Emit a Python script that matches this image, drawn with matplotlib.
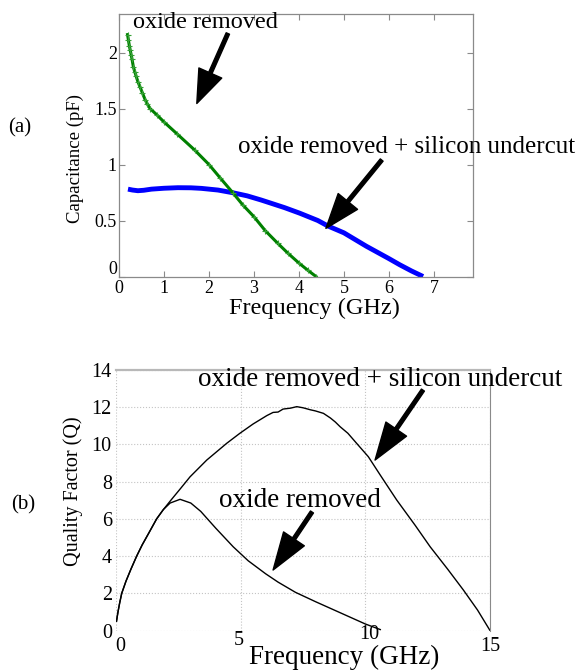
import matplotlib
matplotlib.use("Agg")
import matplotlib.pyplot as plt
from matplotlib.transforms import ScaledTranslation

plt.rcParams['font.family'] = ['Liberation Serif', 'DejaVu Serif']

# ---- (a) Capacitance vs frequency ----
freq_ox = [0.19, 0.21, 0.23, 0.25, 0.27, 0.29, 0.32, 0.35, 0.38, 0.42, 0.47, 0.52,
           0.58, 0.63, 0.69, 0.85, 1.0, 1.3, 1.68, 2.0, 2.25, 2.53, 2.75, 3.0,
           3.25, 3.53, 3.75, 4.0, 4.2, 4.38]
cap_ox = [2.16, 2.11, 2.06, 2.02, 1.98, 1.94, 1.87, 1.83, 1.79, 1.74, 1.69, 1.64,
          1.58, 1.54, 1.50, 1.44, 1.38, 1.27, 1.13, 1.00, 0.88, 0.748, 0.64, 0.534,
          0.41, 0.296, 0.21, 0.12, 0.055, 0.0]

freq_uc = [0.2, 0.3, 0.42, 0.55, 0.72, 1.0, 1.31, 1.6, 1.83, 2.2, 2.53, 2.85,
           3.16, 3.68, 4.02, 4.42, 4.65, 5.0, 5.5, 6.0, 6.24, 6.5, 6.76]
cap_uc = [0.78, 0.772, 0.766, 0.77, 0.78, 0.788, 0.793, 0.792, 0.787, 0.772, 0.748,
          0.72, 0.683, 0.615, 0.565, 0.50, 0.45, 0.39, 0.27, 0.16, 0.105, 0.05, 0.0]

xticks_a = [0, 1, 2, 3, 4, 5, 6, 7]
yticks_a = [0, 0.5, 1, 1.5, 2]
yticklabels_a = ['0', '0.5', '1', '1.5', '2']

# ---- (b) Quality factor vs frequency ----
freq_q_uc = [0.02, 0.08, 0.15, 0.23, 0.4, 0.6, 0.83, 1.05, 1.3, 1.63, 1.9, 2.2,
             2.6, 2.97, 3.64, 4.44, 4.97, 5.5, 6.05, 6.3, 6.5, 6.7, 7.0, 7.25,
             7.5, 7.8, 8.0, 8.32, 8.6, 8.8, 8.99, 9.3, 9.65, 10.12, 10.6, 11.26,
             12.0, 12.6, 13.3, 13.93, 14.5, 15.0]
q_uc = [0.5, 1.0, 1.5, 2.0, 2.65, 3.3, 4.0, 4.6, 5.2, 6.0, 6.5, 7.0,
        7.65, 8.26, 9.16, 10.06, 10.6, 11.1, 11.55, 11.72, 11.74, 11.9, 11.95, 12.03,
        11.97, 11.86, 11.8, 11.67, 11.42, 11.2, 10.95, 10.6, 10.06, 9.34, 8.35, 7.01,
        5.65, 4.5, 3.3, 2.18, 1.1, 0.0]

freq_q_ox = [0.02, 0.08, 0.15, 0.23, 0.4, 0.6, 0.83, 1.05, 1.3, 1.63, 1.9, 2.17,
             2.57, 3.0, 3.4, 4.0, 4.7, 5.3, 6.0, 6.5, 7.2, 8.0, 8.5, 9.0,
             9.5, 10.0, 10.6]
q_ox = [0.5, 1.0, 1.5, 2.0, 2.65, 3.3, 4.0, 4.6, 5.2, 6.0, 6.5, 6.85,
        7.05, 6.85, 6.4, 5.5, 4.5, 3.75, 3.05, 2.6, 2.05, 1.55, 1.25, 0.95,
        0.65, 0.35, 0.05]

xticks_b = [0, 5, 10, 15]
yticks_b = [0, 2, 4, 6, 8, 10, 12, 14]

W, H = 580, 671
fig = plt.figure(figsize=(W / 100, H / 100), dpi=100)

arrow_kw = dict(facecolor='black', edgecolor='black', width=2.6,
                headwidth=18, shrink=0)


def shift(label, dx_px, dy_px):
    label.set_transform(label.get_transform() +
                        ScaledTranslation(dx_px / 100, dy_px / 100, fig.dpi_scale_trans))


# ---------------- top axes ----------------
ax1 = fig.add_axes([119 / W, 1 - 276.5 / H, 354 / W, 262.5 / H])
ax1.plot(freq_uc, cap_uc, color='#0000ff', lw=3.5, solid_capstyle='butt')
ax1.plot(freq_ox, cap_ox, color='#008000', lw=2.2, marker='+', ms=5, mew=0.8,
         markeredgecolor='#33a033')
ax1.set_xlim(0, 7.87)
ax1.set_ylim(0, 2.344)
ax1.set_xticks(xticks_a)
ax1.set_yticks(yticks_a)
ax1.set_yticklabels(yticklabels_a)
for sp in ax1.spines.values():
    sp.set_color('#8a8a8a')
    sp.set_linewidth(0.9)
ax1.tick_params(direction='in', length=4, width=0.8, color='#8a8a8a',
                top=True, right=True, labelsize=13)
ax1.tick_params(axis='x', pad=2.5)
ax1.tick_params(axis='y', pad=1.5)
ax1.set_xlabel('Frequency (GHz)', fontsize=17.5)
ax1.xaxis.label.set_va('center')
ax1.xaxis.set_label_coords(0.552, -0.12)
ax1.set_ylabel('Capacitance (pF)', fontsize=13.5)
ax1.yaxis.label.set_va('center')
ax1.yaxis.set_label_coords(-0.124, 0.45)
shift(ax1.yaxis.get_major_ticks()[0].label1, 0, 9)

ax1.annotate('', xy=(1.73, 1.545), xytext=(2.42, 2.17),
             arrowprops=dict(headlength=24, **arrow_kw))
ax1.text(1.93, 2.22, 'oxide removed', fontsize=17.5, ha='center', va='baseline')
ax1.annotate('', xy=(4.6, 0.43), xytext=(5.84, 1.04),
             arrowprops=dict(headlength=25, **arrow_kw))
ax1.text(6.4, 1.107, 'oxide removed + silicon undercut', fontsize=18,
         ha='center', va='baseline')

# ---------------- bottom axes ----------------
ax2 = fig.add_axes([116 / W, 1 - 630.5 / H, 374 / W, 260.5 / H])
ax2.plot(freq_q_uc, q_uc, color='black', lw=1.0)
ax2.plot(freq_q_ox, q_ox, color='black', lw=1.0)
ax2.set_xlim(0, 15)
ax2.set_ylim(0, 14)
ax2.set_xticks(xticks_b)
ax2.set_yticks(yticks_b)
ax2.grid(True, linestyle=':', color='#c4c4c4', linewidth=0.8)
ax2.spines['left'].set_visible(False)
ax2.spines['bottom'].set_visible(False)
ax2.spines['top'].set_color('#b8b8b8')
ax2.spines['top'].set_linewidth(1.6)
ax2.spines['right'].set_color('#8a8a8a')
ax2.spines['right'].set_linewidth(0.8)
ax2.tick_params(axis='both', length=0, labelsize=14.5)
ax2.tick_params(axis='y', pad=3)
ax2.tick_params(axis='x', pad=5)
ax2.set_xlabel('Frequency (GHz)', fontsize=19.5)
ax2.xaxis.label.set_va('center')
ax2.xaxis.set_label_coords(0.61, -0.105)
ax2.set_ylabel('Quality Factor (Q)', fontsize=14.5)
ax2.yaxis.label.set_va('center')
ax2.yaxis.set_label_coords(-0.115, 0.535)
xt = ax2.xaxis.get_major_ticks()
shift(xt[0].label1, 4, 0)
shift(xt[1].label1, -2, 6)
shift(xt[2].label1, 4, 12)

ax2.annotate('', xy=(10.39, 9.16), xytext=(12.31, 12.92),
             arrowprops=dict(headlength=27, **arrow_kw))
ax2.text(10.59, 13.14, 'oxide removed + silicon undercut', fontsize=19.5,
         ha='center', va='baseline')
ax2.annotate('', xy=(6.30, 3.25), xytext=(7.86, 6.37),
             arrowprops=dict(headlength=27, **arrow_kw))
ax2.text(7.38, 6.64, 'oxide removed', fontsize=19.5, ha='center', va='baseline')

# panel labels
fig.text(20 / W, 1 - 128 / H, '(a)', fontsize=15, ha='center', va='center')
fig.text(23.5 / W, 1 - 505 / H, '(b)', fontsize=15, ha='center', va='center')

fig.savefig('out.png', dpi=100)
